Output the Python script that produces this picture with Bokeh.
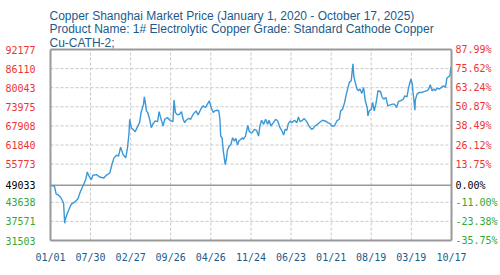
import pandas as pd
from bokeh.plotting import figure
from bokeh.core.properties import value
from bokeh.models import ColumnDataSource, Range1d
from bokeh.embed import file_html
from bokeh.resources import INLINE

# ---------------- data ----------------
dates = [
    "2020-01-02", "2020-01-22", "2020-01-31", "2020-02-10", "2020-02-24", "2020-03-06",
    "2020-03-10", "2020-03-16", "2020-03-18", "2020-03-30", "2020-04-10", "2020-04-20",
    "2020-05-07", "2020-05-25", "2020-06-02", "2020-06-11", "2020-06-25", "2020-07-06",
    "2020-07-13", "2020-07-20", "2020-08-03", "2020-08-12", "2020-08-31", "2020-09-16",
    "2020-10-09", "2020-10-21", "2020-11-09", "2020-11-20", "2020-12-01", "2020-12-14",
    "2020-12-25", "2021-01-05", "2021-01-18", "2021-02-01", "2021-02-10", "2021-02-18",
    "2021-02-22", "2021-03-02", "2021-03-11", "2021-03-23", "2021-04-02", "2021-04-15",
    "2021-04-23", "2021-05-06", "2021-05-10", "2021-05-14", "2021-05-21", "2021-05-28",
    "2021-06-07", "2021-06-16", "2021-06-25", "2021-07-07", "2021-07-19", "2021-07-27",
    "2021-08-04", "2021-08-17", "2021-08-26", "2021-09-09", "2021-09-22", "2021-10-08",
    "2021-10-14", "2021-10-21", "2021-11-01", "2021-11-12", "2021-11-22", "2021-12-01",
    "2021-12-09", "2021-12-17", "2021-12-31", "2022-01-10", "2022-01-21", "2022-02-07",
    "2022-02-18", "2022-03-04", "2022-03-16", "2022-03-29", "2022-04-08", "2022-04-18",
    "2022-04-29", "2022-05-09", "2022-05-17", "2022-05-31", "2022-06-07", "2022-06-13",
    "2022-06-17", "2022-06-24", "2022-07-01", "2022-07-11", "2022-07-18", "2022-07-22",
    "2022-08-01", "2022-08-10", "2022-08-19", "2022-08-29", "2022-09-05", "2022-09-14",
    "2022-09-21", "2022-10-10", "2022-10-14", "2022-10-26", "2022-11-07", "2022-11-15",
    "2022-11-28", "2022-12-12", "2022-12-23", "2023-01-03", "2023-01-10", "2023-01-19",
    "2023-01-30", "2023-02-09", "2023-02-20", "2023-02-27", "2023-03-09", "2023-03-22",
    "2023-04-03", "2023-04-14", "2023-04-26", "2023-05-05", "2023-05-15", "2023-05-23",
    "2023-06-01", "2023-06-09", "2023-06-19", "2023-06-27", "2023-07-11", "2023-07-24",
    "2023-08-01", "2023-08-10", "2023-08-22", "2023-09-01", "2023-09-14", "2023-09-26",
    "2023-10-10", "2023-10-19", "2023-10-27", "2023-11-10", "2023-11-24", "2023-12-06",
    "2023-12-20", "2024-01-03", "2024-01-15", "2024-01-24", "2024-02-07", "2024-02-20",
    "2024-03-04", "2024-03-11", "2024-03-21", "2024-04-01", "2024-04-10", "2024-04-18",
    "2024-04-26", "2024-05-06", "2024-05-15", "2024-05-20", "2024-05-27", "2024-06-05",
    "2024-06-13", "2024-06-21", "2024-07-01", "2024-07-10", "2024-07-19", "2024-07-29",
    "2024-08-02", "2024-08-09", "2024-08-20", "2024-08-27", "2024-09-04", "2024-09-13",
    "2024-09-24", "2024-10-08", "2024-10-15", "2024-10-24", "2024-11-05", "2024-11-15",
    "2024-11-28", "2024-12-10", "2024-12-20", "2024-12-31", "2025-01-10", "2025-01-21",
    "2025-02-05", "2025-02-12", "2025-02-24", "2025-03-05", "2025-03-17", "2025-03-24",
    "2025-03-28", "2025-04-07", "2025-04-09", "2025-04-18", "2025-04-30", "2025-05-14",
    "2025-05-28", "2025-06-10", "2025-06-19", "2025-06-27", "2025-07-07", "2025-07-15",
    "2025-07-24", "2025-08-01", "2025-08-14", "2025-08-25", "2025-09-05", "2025-09-15",
    "2025-09-23", "2025-10-09", "2025-10-13", "2025-10-17",
]
prices = [
    49033, 48693, 46241, 46028, 45175, 43896,
    43363, 36967, 38033, 40165, 41764, 43043,
    43683, 44749, 46241, 47627, 49439, 51145,
    53277, 52211, 50825, 52211, 52424, 51678,
    51358, 52211, 52957, 55622, 57754, 58607,
    58287, 61165, 58820, 57754, 60739, 65429,
    70013, 67348, 66815, 66069, 67348, 68947,
    72145, 74810, 77155, 75876, 72678, 72145,
    70013, 67348, 68627, 69480, 69267, 72465,
    70546, 67881, 70013, 70546, 69693, 69267,
    76089, 72145, 71399, 71612, 72465, 70013,
    68947, 69693, 70333, 70013, 71399, 72678,
    71399, 73211, 74277, 73744, 74810, 75876,
    73531, 72145, 72678, 72891, 72678, 70013,
    64683, 64150, 59886, 55622, 57754, 60099,
    61485, 62018, 64150, 63084, 63937, 61805,
    63084, 64150, 63617, 64683, 68038, 66119,
    65679, 66815, 66495, 64683, 67881, 69693,
    68414, 70013, 68414, 69693, 67881, 68947,
    70013, 69480, 67348, 66495, 65027, 66815,
    66495, 68627, 69480, 68947, 69693, 68947,
    70759, 69267, 69693, 70226, 69267, 67881,
    66815, 67135, 67881, 68414, 69160, 69693,
    69480, 68947, 68627, 67881, 67881, 69480,
    70013, 72678, 73211, 75343, 78008, 79927,
    81739, 82272, 87600, 83551, 81739, 79607,
    79074, 79607, 78221, 80140, 75876, 73744,
    71079, 72678, 73211, 75343, 72678, 74810,
    79074, 78754, 77155, 76409, 76942, 74277,
    74597, 74810, 74810, 73744, 75657, 75876,
    76409, 77475, 77155, 80140, 82805, 81206,
    78541, 72891, 76089, 78008, 78541, 78541,
    78861, 79074, 79607, 80993, 79074, 79607,
    79074, 79927, 79607, 80140, 80673, 80140,
    83125, 83871, 86536, 85474,
]
base_price = 49033
y_ticks = [31503, 37571, 43638, 49033, 55773, 61840, 67908, 73975, 80043, 86110, 92177]
y_tick_labels = ["31503", "37571", "43638", "49033", "55773", "61840",
                 "67908", "73975", "80043", "86110", "92177"]
pct_labels = ["-35.75%", "-23.38%", "-11.00%", "0.00%", "13.75%", "26.12%",
              "38.49%", "50.87%", "63.24%", "75.62%", "87.99%"]
x_tick_dates = ["2020-01-01", "2020-07-30", "2021-02-27", "2021-09-26", "2022-04-26",
                "2022-11-24", "2023-06-23", "2024-01-21", "2024-08-19", "2025-03-19",
                "2025-10-17"]
x_tick_labels = ["01/01", "07/30", "02/27", "09/26", "04/26", "11/24", "06/23",
                 "01/21", "08/19", "03/19", "10/17"]
title_lines = [
    "Copper Shanghai Market Price (January 1, 2020 - October 17, 2025)",
    "Product Name: 1# Electrolytic Copper Grade: Standard Cathode Copper",
    "Cu-CATH-2;",
]

# ---------------- styles / layout ----------------
RED = "#ee3333"
GREEN = "#33a833"
BLACK = "#000000"
BLUE_TXT = "#1a5b8c"
LINE_COLOR = "#3a98d8"
GRID_COLOR = "#c8c8c8"
FRAME_COLOR = "#999999"
MONO = "DejaVu Sans Mono"
W, H = 500, 275
PLOT_L, PLOT_R, PLOT_T, PLOT_B = 50, 451, 49, 240   # plot box in canvas pixels

x = pd.to_datetime(dates)
x_ms = [pd.Timestamp(d).value // 10**6 for d in x_tick_dates]
xs, xe = x_ms[0], x_ms[-1]
ys, ye = y_ticks[0], y_ticks[-1]

# the Bokeh frame covers the whole canvas; ranges are widened so that the
# data box lands on the plot box and the outside texts stay inside the frame
mppx = (xe - xs) / (PLOT_R - PLOT_L)
uppy = (ye - ys) / (PLOT_B - PLOT_T)
x_range = Range1d(xs - PLOT_L * mppx, xe + (W - PLOT_R) * mppx)
y_range = Range1d(ys - (H - PLOT_B) * uppy, ye + PLOT_T * uppy)

p = figure(width=W, height=H, output_backend="svg", toolbar_location=None,
           x_axis_type="datetime", x_axis_location=None, y_axis_location=None,
           x_range=x_range, y_range=y_range,
           min_border=0, min_border_left=0, min_border_right=0,
           min_border_top=0, min_border_bottom=0)
p.background_fill_color = "white"
p.border_fill_color = "white"
p.outline_line_color = None
p.xgrid.visible = False
p.ygrid.visible = False

# dashed grid
h_grid = [t for t in y_ticks[1:-1] if t != base_price]
p.segment(x0=[xs] * len(h_grid), x1=[xe] * len(h_grid), y0=h_grid, y1=h_grid,
          line_color=GRID_COLOR, line_dash="3 2", line_width=1)
v_grid = x_ms[1:-1]
p.segment(x0=v_grid, x1=v_grid, y0=[ys] * len(v_grid), y1=[ye] * len(v_grid),
          line_color=GRID_COLOR, line_dash="3 2", line_width=1)

# base (0 %) line
p.segment(x0=[xs], x1=[xe], y0=[base_price], y1=[base_price],
          line_color=FRAME_COLOR, line_width=1.5)

# price line
p.line(x, prices, line_color=LINE_COLOR, line_width=1.4)

# y tick labels coloured by sign relative to base price
colors = [RED if t > base_price else (GREEN if t < base_price else BLACK) for t in y_ticks]
src = ColumnDataSource(dict(y=y_ticks, left=y_tick_labels, right=pct_labels, c=colors,
                            xl=[xs] * len(y_ticks), xr=[xe] * len(y_ticks)))
p.text(x="xl", y="y", text="left", source=src, text_color="c", text_font=value(MONO),
       text_font_size=value("10px"), text_baseline="middle", text_align="left",
       x_offset=-45)
p.text(x="xr", y="y", text="right", source=src, text_color="c", text_font=value(MONO),
       text_font_size=value("10px"), text_baseline="middle", text_align="left",
       x_offset=4)

# x tick labels
p.text(x=x_ms, y=[ys] * len(x_ms), text=x_tick_labels, text_color=BLUE_TXT,
       text_font=value(MONO), text_font_size=value("10px"), text_baseline="middle",
       text_align="center", y_offset=17)

# title lines
title_offsets = [-33.3, -20.1, -7.0]
p.text(x=[xs] * len(title_lines), y=[ye] * len(title_lines), text=title_lines,
       text_color=BLUE_TXT, text_font=value("Liberation Sans"),
       text_font_size=value("12px"), text_baseline="alphabetic", text_align="left",
       x_offset=-1, y_offset=title_offsets)

# plot box (four edges)
p.segment(x0=[xs, xs, xs, xe], y0=[ys, ye, ys, ys],
          x1=[xe, xe, xs, xe], y1=[ys, ye, ye, ye],
          line_color=FRAME_COLOR, line_width=2)

open("out.html", "w").write(file_html(p, INLINE))
